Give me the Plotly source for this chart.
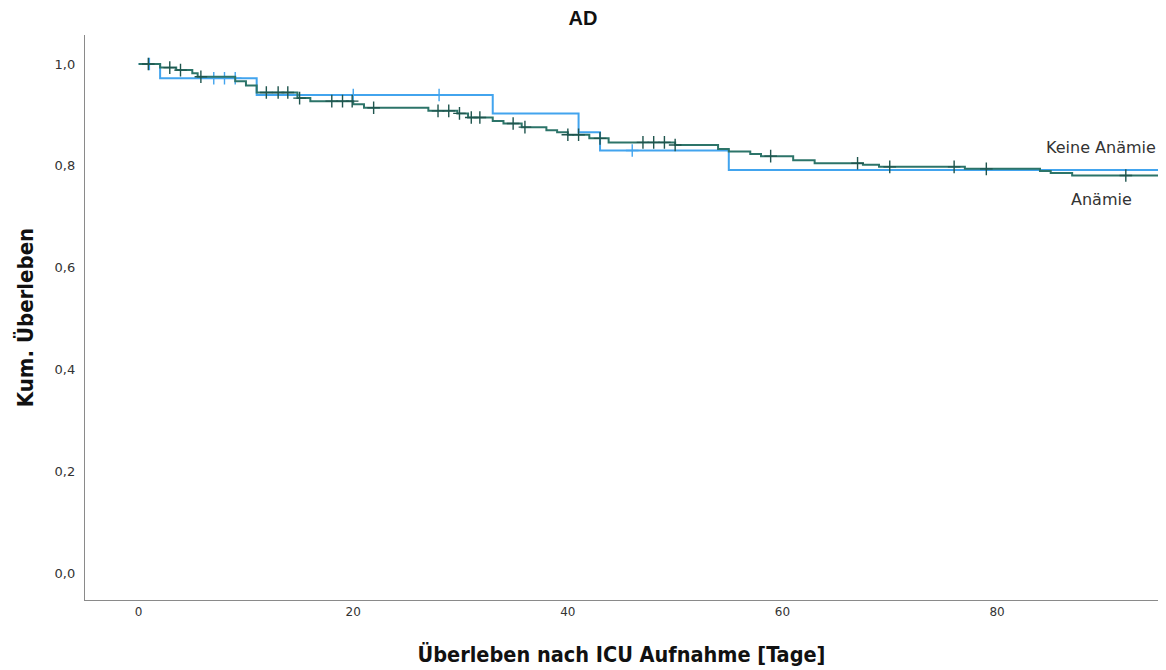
import numpy as np
import plotly.graph_objects as go

# Keine Anämie (blue)
blue_times = [0, 2, 11, 33, 41, 43, 55]
blue_surv = [1.0, 0.972, 0.939, 0.903, 0.866, 0.830, 0.792]
blue_censor = [1, 7, 8, 9, 20, 28, 46]

# Anämie (dark green)
green_times = [0, 2, 3.5, 5, 5.5, 9, 10, 11, 14.8, 16, 20, 21, 27, 29.7, 30.7, 33, 34,
               35.7, 38, 39, 40, 42, 43.8, 50, 54, 55, 57, 58, 61, 63, 67.5, 69, 77,
               84, 85, 87]
green_surv = [1.0, 0.993, 0.988, 0.982, 0.975, 0.966, 0.958, 0.944, 0.933, 0.927, 0.921,
              0.914, 0.908, 0.903, 0.895, 0.888, 0.883, 0.876, 0.870, 0.866, 0.861,
              0.854, 0.846, 0.841, 0.833, 0.828, 0.823, 0.819, 0.811, 0.805, 0.802,
              0.798, 0.794, 0.790, 0.786, 0.781]
green_censor = [0.9, 2.9, 3.9, 5.8, 11.9, 13, 13.9, 15, 18, 19, 19.9, 21.9, 27.9, 28.9,
                29.9, 31, 31.8, 34.9, 36, 40, 41, 43, 47, 48, 49, 50, 58.9, 67, 70, 76,
                79, 92]

t_end = 95
x_ticks = [0, 20, 40, 60, 80]
y_ticks = [0.0, 0.2, 0.4, 0.6, 0.8, 1.0]
y_ticktext = ["0,0", "0,2", "0,4", "0,6", "0,8", "1,0"]

BLUE = "#42a4ee"
GREEN = "#2c7469"
GREEN_DARK = "#1f554e"
TITLE_FONT = "DejaVu Sans Condensed, DejaVu Sans"


def step_value(times, surv, t):
    idx = np.searchsorted(np.array(times), np.array(t), side="right") - 1
    return list(np.array(surv)[idx])


fig = go.Figure()

for times, surv, cens, col, mcol, name in [
    (blue_times, blue_surv, blue_censor, BLUE, BLUE, "Keine Anämie"),
    (green_times, green_surv, green_censor, GREEN, GREEN_DARK, "Anämie"),
]:
    xs = list(times) + [t_end]
    ys = list(surv) + [surv[-1]]
    fig.add_trace(go.Scatter(x=xs, y=ys, mode="lines", line=dict(color=col, width=2, shape="hv"),
                             name=name, showlegend=False, hoverinfo="skip"))
    fig.add_trace(go.Scatter(x=cens, y=step_value(times, surv, cens), mode="markers",
                             marker=dict(symbol="cross-thin", size=9,
                                         line=dict(color=mcol, width=1.4)),
                             showlegend=False, hoverinfo="skip"))

fig.add_annotation(x=1.0, xref="paper", y=blue_surv[-1], yref="y", text="Keine Anämie",
                   showarrow=False, xanchor="right", yanchor="bottom", yshift=11,
                   font=dict(family="DejaVu Sans", size=16, color="#333333"))
fig.add_annotation(x=0.9775, xref="paper", y=green_surv[-1], yref="y", text="Anämie",
                   showarrow=False, xanchor="right", yanchor="top", yshift=-13,
                   font=dict(family="DejaVu Sans", size=16, color="#333333"))

fig.update_layout(
    width=1166, height=670,
    margin=dict(l=85, r=8, t=35, b=70),
    plot_bgcolor="white", paper_bgcolor="white",
    title=dict(text="<b>AD</b>", x=0.5, xref="container", y=0.973, yanchor="middle",
               font=dict(family="Liberation Sans", size=20, color="#111111")),
    xaxis=dict(range=[-5, t_end], tickvals=x_ticks, showgrid=False, zeroline=False,
               showline=True, linecolor="#8a8a8a", linewidth=1.3, ticks="",
               tickfont=dict(family="DejaVu Sans", size=12, color="#333333"),
               title=dict(text="<b>Überleben nach ICU Aufnahme [Tage]</b>", standoff=29,
                          font=dict(family=TITLE_FONT, size=21.5, color="#111111"))),
    yaxis=dict(range=[-0.053, 1.057], tickvals=y_ticks, ticktext=y_ticktext,
               showgrid=False, zeroline=False, showline=True, linecolor="#8a8a8a",
               linewidth=1.3, ticks="", ticklabelstandoff=6,
               tickfont=dict(family="DejaVu Sans", size=13, color="#333333"),
               title=dict(text="<b>Kum. Überleben</b>", standoff=14,
                          font=dict(family=TITLE_FONT, size=22, color="#111111"))),
)

fig.write_html("out.html")
